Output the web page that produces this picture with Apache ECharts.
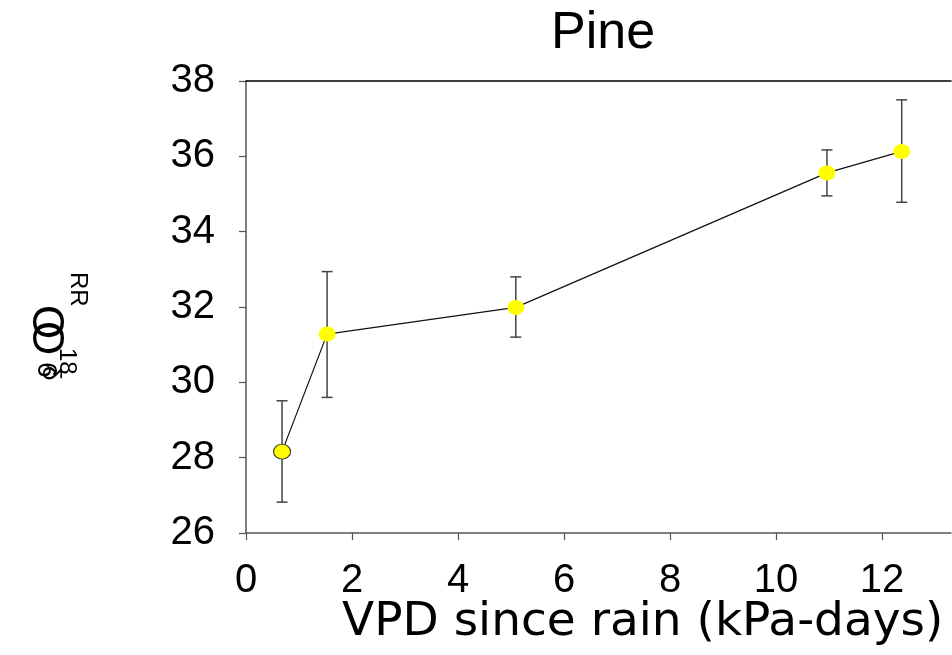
<!DOCTYPE html>
<html>
<head>
<meta charset="utf-8">
<script src="https://cdn.jsdelivr.net/npm/echarts@6/dist/echarts.min.js"></script>
<style>
  html, body { margin: 0; padding: 0; background: #fff; }
  #main_echart { width: 952px; height: 655px; }
</style>
</head>
<body>
<div id="main_echart"></div>
<script>
// 数据
var vpdList = [0.68, 1.53, 5.09, 10.96, 12.37];
var meanList = [28.16, 31.28, 31.99, 35.56, 36.13];
var highList = [29.51, 32.94, 32.80, 36.17, 37.50];
var lowList = [26.82, 29.60, 31.20, 34.95, 34.78];
var yTicks = [26, 28, 30, 32, 34, 36, 38];
var xTicks = [0, 2, 4, 6, 8, 10, 12];

var myChart = echarts.init(document.getElementById('main_echart'));
var font = 'Liberation Sans';

var lineData = [];
var errData = [];
for (var i = 0; i < vpdList.length; i++) {
    var item = {value: [vpdList[i], meanList[i]]};
    if (i === 0) {
        item.itemStyle = {borderColor: '#333', borderWidth: 1};
    }
    lineData.push(item);
    errData.push([vpdList[i], lowList[i], highList[i]]);
}

//误差棒
function renderErr(params, api) {
    var lo = api.coord([api.value(0), api.value(1)]);
    var hi = api.coord([api.value(0), api.value(2)]);
    var w = 5.5;
    var st = {stroke: '#444', lineWidth: 1.5};
    return {
        type: 'group',
        children: [
            {type: 'line', shape: {x1: lo[0], y1: lo[1], x2: hi[0], y2: hi[1]}, style: st},
            {type: 'line', shape: {x1: lo[0] - w, y1: lo[1], x2: lo[0] + w, y2: lo[1]}, style: st},
            {type: 'line', shape: {x1: hi[0] - w, y1: hi[1], x2: hi[0] + w, y2: hi[1]}, style: st}
        ]
    };
}

var option = {
    animation: false,
    grid: {left: 246, top: 81, right: 1, bottom: 122},
    xAxis: [
        {
            type: 'value',
            min: 0,
            max: 13.3,
            interval: 2,
            splitLine: {show: false},
            axisLine: {lineStyle: {color: '#555', width: 1.5}},
            axisTick: {inside: false, length: 7, lineStyle: {color: '#555', width: 1.2}},
            axisLabel: {
                showMaxLabel: false,
                margin: 28,
                color: '#000',
                fontFamily: font,
                fontSize: 40,
                formatter: function (v) {
                    return xTicks.indexOf(v) >= 0 ? String(v) : '';
                }
            }
        },
        {
            type: 'value',
            position: 'top',
            min: 0,
            max: 13.3,
            splitLine: {show: false},
            axisLine: {show: true, onZero: false, lineStyle: {color: '#000', width: 1.5}},
            axisTick: {show: false},
            axisLabel: {show: false}
        }
    ],
    yAxis: {
        type: 'value',
        min: yTicks[0],
        max: yTicks[yTicks.length - 1],
        interval: 2,
        splitLine: {show: false},
        axisLine: {show: true, lineStyle: {color: '#555', width: 1.5}},
        axisTick: {show: true, length: 7, lineStyle: {color: '#555', width: 1.2}},
        axisLabel: {
            margin: 31,
            color: '#000',
            fontFamily: font,
            fontSize: 40
        }
    },
    series: [
        {
            type: 'custom',
            renderItem: renderErr,
            data: errData,
            z: 1,
            silent: true
        },
        {
            type: 'line',
            data: lineData,
            z: 3,
            symbol: 'circle',
            symbolSize: [17, 15],
            showAllSymbol: true,
            lineStyle: {color: '#111', width: 1.2},
            itemStyle: {color: '#ffff00', borderWidth: 0}
        }
    ],
    graphic: [
        {
            type: 'text', left: 551, top: 8,
            style: {text: 'Pine', font: '52px "Liberation Sans"', fill: '#000'}
        },
        {
            type: 'text', left: 342, top: 599,
            style: {text: 'VPD since rain (kPa-days)', font: '47px "DejaVu Sans"', fill: '#000'}
        },
        //乱码的y轴标题
        {
            type: 'text', x: 90, y: 272, rotation: -Math.PI / 2,
            style: {text: 'RR', font: '24px "Liberation Sans"', fill: '#000'}
        },
        {
            type: 'text', x: 67, y: 305, rotation: -Math.PI / 2,
            style: {text: 'O', font: '44px "Liberation Sans"', fill: '#000'}
        },
        {
            type: 'text', x: 67, y: 321, rotation: -Math.PI / 2,
            style: {text: 'O', font: '44px "Liberation Sans"', fill: '#000'}
        },
        {
            type: 'text', x: 79, y: 348, rotation: -Math.PI / 2,
            style: {text: '18', font: '24px "Liberation Sans"', fill: '#000'}
        },
        {
            type: 'text', x: 60, y: 362, rotation: -Math.PI / 2,
            style: {text: '6', font: '28px "Liberation Sans"', fill: '#000'}
        },
        {
            type: 'text', x: 63, y: 366, rotation: -Math.PI / 2,
            style: {text: 'δ', font: '26px "Liberation Sans"', fill: '#000'}
        }
    ]
};

myChart.setOption(option);
</script>
</body>
</html>
